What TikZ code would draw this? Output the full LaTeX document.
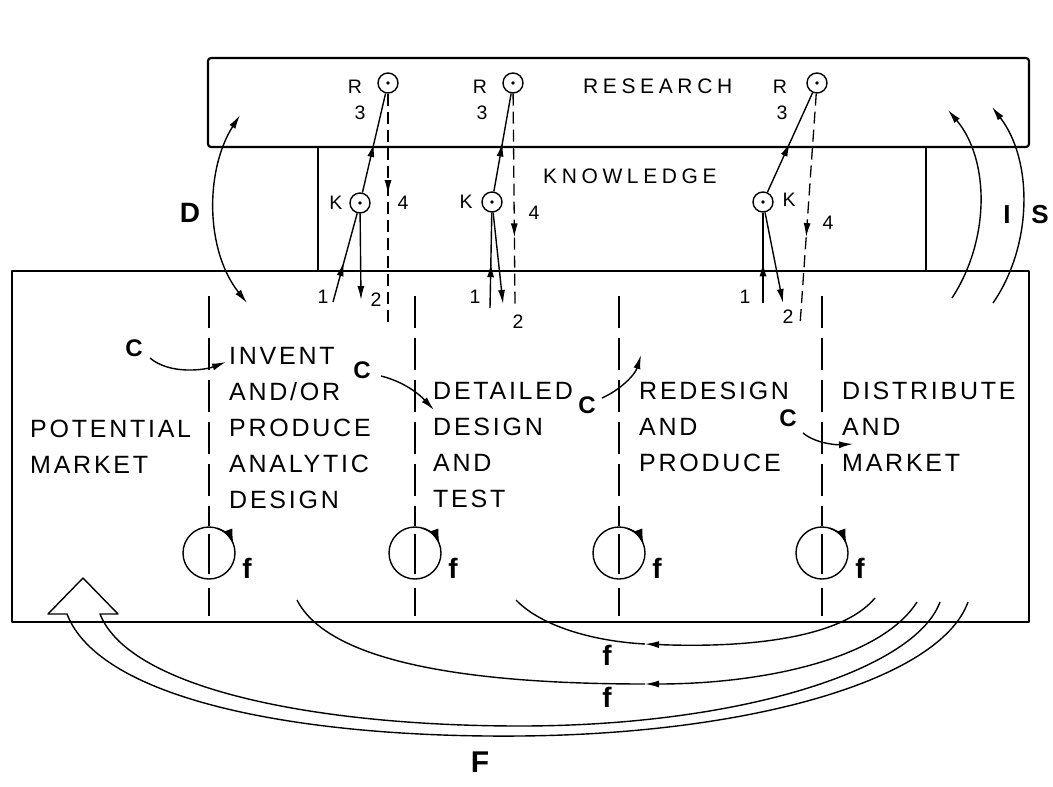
\documentclass[tikz,border=0pt]{standalone}
\usepackage{fontspec}
\setmainfont{Liberation Sans}
\newfontfamily\stg[LetterSpace=11]{Liberation Sans}
\newfontfamily\wid[LetterSpace=22]{Liberation Sans}
\usetikzlibrary{arrows.meta,decorations.markings}
\begin{document}
\begin{tikzpicture}[x=1pt,y=-1pt,line join=round,
  frame/.style={line width=2.2pt},
  conn/.style={line width=1.4pt},
  tip/.style={-{Latex[length=14pt,width=7pt]}},
  dtip/.style={{Latex[length=14pt,width=7pt]}-{Latex[length=14pt,width=7pt]}},
  stage/.style={line width=1.5pt,dash pattern=on 32pt off 10pt},
  fbf/.style={line width=1.3pt,dash pattern=on 12pt off 6pt},
  dotc/.style={circle,draw,line width=1.4pt,minimum size=20pt,inner sep=0pt},
  fcirc/.style={circle,draw,line width=1.4pt,minimum size=52pt,inner sep=0pt},
  small/.style={font=\fontsize{19.5}{19.5}\selectfont,inner sep=0pt},
  stagetxt/.style={font=\stg\fontsize{25}{36}\selectfont,align=left,anchor=north west,inner sep=0pt},
  bl/.style={font=\bfseries\fontsize{24}{24}\selectfont,inner sep=0pt},
  midarrow/.style={postaction={decorate},decoration={markings,mark=at position #1 with {\arrow{Latex[length=14pt,width=7pt]}}}}
]
\useasboundingbox (0,0) rectangle (1053,787);
% boxes
\draw[frame,rounded corners=3pt] (208,58) rectangle (1029,147);
\draw[frame] (12,271) rectangle (1029,622);
\draw[line width=1.6pt] (318,147) -- (318,271);
\draw[line width=1.6pt] (926,147) -- (926,271);
\node[font=\wid\fontsize{21}{21}\selectfont,anchor=base west,inner sep=0pt] (res) at (583,93) {RESEARCH};
\node[font=\wid\fontsize{21}{21}\selectfont,anchor=base west,inner sep=0pt] (know) at (543,183) {KNOWLEDGE};
% R and K nodes
\node[dotc] (R1) at (388,83) {}; \fill (R1) circle (1.8);
\node[dotc] (R2) at (513,83) {}; \fill (R2) circle (1.8);
\node[dotc] (R3) at (817,83) {}; \fill (R3) circle (1.8);
\node[dotc] (K1) at (360,203) {}; \fill (K1) circle (1.8);
\node[dotc] (K2) at (492,202) {}; \fill (K2) circle (1.8);
\node[dotc] (K3) at (763,202) {}; \fill (K3) circle (1.8);
% labels group 1
\node[small] (lR1) at (355,87) {R};
\node[small] (l31) at (360,113) {3};
\node[small] (lK1) at (336,203) {K};
\node[small] (l41) at (403,203) {4};
\node[small] (l11) at (323,297) {1};
\node[small] (l21) at (376,300) {2};
% labels group 2
\node[small] (lR2) at (480,87) {R};
\node[small] (l32) at (482,113) {3};
\node[small] (lK2) at (466,202) {K};
\node[small] (l42) at (534,213) {4};
\node[small] (l12) at (475,297) {1};
\node[small] (l22) at (518,322) {2};
% labels group 3
\node[small] (lR3) at (780,87) {R};
\node[small] (l33) at (782,113) {3};
\node[small] (lK3) at (789,200) {K};
\node[small] (l43) at (828,223) {4};
\node[small] (l13) at (745,297) {1};
\node[small] (l23) at (788,317) {2};
% connectors group 1
\coordinate (a1) at (333,302);
\coordinate (b1) at (361,300);
\coordinate (d1) at (388,322);
\draw[conn,midarrow=0.45] (a1) -- (K1);
\draw[conn,tip] (K1) -- (b1);
\draw[conn,midarrow=0.5] (K1) -- (R1);
\draw[fbf,midarrow=0.44] (R1) -- (d1);
% group 2
\coordinate (a2) at (490,308);
\coordinate (b2) at (503,304);
\coordinate (d2) at (515,305);
\draw[conn,midarrow=0.47] (a2) -- (K2);
\draw[conn,tip] (K2) -- (b2);
\draw[conn,midarrow=0.5] (K2) -- (R2);
\draw[fbf,midarrow=0.68] (R2) -- (d2);
% group 3
\coordinate (a3) at (763,303);
\coordinate (b3) at (783,303);
\coordinate (d3) at (800,325);
\draw[conn,midarrow=0.45] (a3) -- (K3);
\draw[conn,tip] (K3) -- (b3);
\draw[conn,midarrow=0.5] (K3) -- (R3);
\draw[fbf,midarrow=0.62] (R3) -- (d3);
% D, I, S
\node[bl,font=\bfseries\fontsize{28}{28}\selectfont] (D) at (190,213) {D};
\node[bl,font=\bfseries\fontsize{26}{26}\selectfont] (I) at (1007,215) {I};
\node[bl,font=\bfseries\fontsize{26}{26}\selectfont] (S) at (1040,215) {S};
\coordinate (dT) at (240,115); \coordinate (dB) at (247,303);
\draw[conn,dtip] (dT) .. controls (205,170) and (205,250) .. (dB);
\coordinate (iB) at (952,298); \coordinate (iT) at (948,110);
\draw[conn,tip] (iB) .. controls (990,240) and (990,160) .. (iT);
\coordinate (sB) at (993,303); \coordinate (sT) at (992,107);
\draw[conn,tip] (sB) .. controls (1033,245) and (1033,160) .. (sT);
% stage texts
\node[stagetxt] (pm) at (30,420) {POTENTIAL\\MARKET};
\node[stagetxt] (inv) at (229,347) {INVENT\\AND/OR\\PRODUCE\\ANALYTIC\\DESIGN};
\node[stagetxt] (det) at (433,382) {DETAILED\\DESIGN\\AND\\TEST};
\node[stagetxt] (red) at (639,382) {REDESIGN\\AND\\PRODUCE};
\node[stagetxt] (dis) at (842,382) {DISTRIBUTE\\AND\\MARKET};
% stage lines and f circles
\foreach \x/\n in {209/1,415/2,619/3,822/4}{
  \draw[stage] (\x,296) -- (\x,526);
  \draw[line width=1.5pt] (\x,534) -- (\x,574);
  \draw[line width=1.5pt] (\x,588) -- (\x,616);
  \node[fcirc] (fc\n) at (\x,553) {};
  \draw[conn,-{Latex[length=15pt,width=9pt]}] ([shift={(-72:26)}]\x,553) arc (-72:-20:26);
  \node[bl,font=\bfseries\fontsize{28}{28}\selectfont] (fl\n) at (\x+38,568) {f};
}
% C arrows
\node[bl] (c1) at (134,348) {C};
\node[bl] (c2) at (362,370) {C};
\node[bl] (c3) at (587,405) {C};
\node[bl] (c4) at (788,418) {C};
\coordinate (c1s) at (150,358); \coordinate (c1e) at (226,362);
\coordinate (c2s) at (381,376); \coordinate (c2e) at (434,410);
\coordinate (c3s) at (602,398); \coordinate (c3e) at (641,355);
\coordinate (c4s) at (803,433); \coordinate (c4e) at (853,444);
\draw[conn,tip] (c1s) .. controls (170,375) and (205,370) .. (c1e);
\draw[conn,tip] (c2s) .. controls (405,382) and (420,395) .. (c2e);
\draw[conn,tip] (c3s) .. controls (620,390) and (635,375) .. (c3e);
\draw[conn,tip] (c4s) .. controls (815,443) and (835,445) .. (c4e);
% bottom feedback arcs
\coordinate (f1r) at (875,598); \coordinate (f1m) at (645,644); \coordinate (f1l) at (516,600);
\draw[conn,tip] (f1r) .. controls (840,640) and (740,648) .. (f1m);
\draw[conn] (f1m) .. controls (590,641) and (540,625) .. (f1l);
\coordinate (f2r) at (917,602); \coordinate (f2m) at (645,684); \coordinate (f2l) at (297,600);
\draw[conn,tip] (f2r) .. controls (880,660) and (760,684) .. (f2m);
\draw[conn] (f2m) .. controls (480,684) and (330,665) .. (f2l);
\node[bl,font=\bfseries\fontsize{28}{28}\selectfont] (ff1) at (607,655) {f};
\node[bl,font=\bfseries\fontsize{28}{28}\selectfont] (ff2) at (607,697) {f};
% big F hollow arrow
\coordinate (Fo) at (968,602); \coordinate (Fi) at (940,602);
\draw[conn] (Fo) .. controls (940,680) and (750,734) .. (520,736) .. controls (300,738) and (100,700) .. (67,614) -- (48,614) -- (83,578) -- (118,614) -- (100,614) .. controls (130,690) and (320,726) .. (520,726) .. controls (740,726) and (915,670) .. (Fi);
\node[bl,font=\bfseries\fontsize{30}{30}\selectfont] (F) at (480,762) {F};
\end{tikzpicture}
\end{document}
